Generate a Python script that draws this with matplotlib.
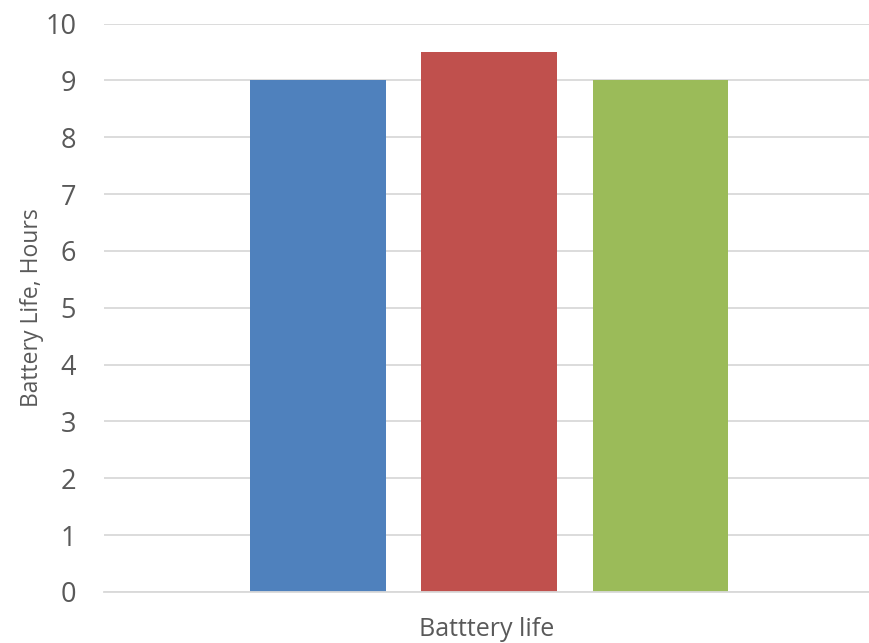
import matplotlib
matplotlib.use("Agg")
import matplotlib.pyplot as plt

categories = ["Batttery life"]
series_names = ["Series 1", "Series 2", "Series 3"]
values = [9, 9.5, 9]
colors = ["#4F81BD", "#C0504D", "#9BBB59"]
yticks = [0, 1, 2, 3, 4, 5, 6, 7, 8, 9, 10]

text_color = "#595959"
plt.rcParams["font.family"] = ["Open Sans", "DejaVu Sans"]

fig = plt.figure(figsize=(8.69, 6.43), dpi=100)
ax = fig.add_axes([104 / 869, 1 - 592 / 643, 765 / 869, (592 - 23.5) / 643])

offsets = [-1, 0, 1]
for off, v, c, name in zip(offsets, values, colors, series_names):
    ax.bar(off, v, width=0.79, color=c, label=name, zorder=3)

ax.set_xlim(-2.25, 2.22)
ax.set_ylim(0, 10)
ax.set_yticks(yticks)
ax.set_yticklabels([str(t) for t in yticks])
ax.set_xticks([])
ax.grid(axis="y", color="#D9D9D9", linewidth=1.3, zorder=0)
for s in ["top", "right", "left"]:
    ax.spines[s].set_visible(False)
ax.spines["bottom"].set_color("#D9D9D9")
ax.spines["bottom"].set_linewidth(1.3)
ax.spines["bottom"].set_zorder(4)
ax.tick_params(axis="y", length=0, pad=20, labelsize=19.5, labelcolor=text_color)

ax.set_ylabel("Battery Life, Hours", fontsize=16.5, color=text_color)
ax.yaxis.set_label_coords((32 - 104) / 765, (592 - 308) / 568.5)
ax.yaxis.label.set_va("center")
ax.set_xlabel(categories[0], fontsize=18, color=text_color)
ax.xaxis.set_label_coords(0.5, -(630 - 592) / 568.5)
ax.xaxis.label.set_va("center")

fig.savefig("out.png", dpi=100)
